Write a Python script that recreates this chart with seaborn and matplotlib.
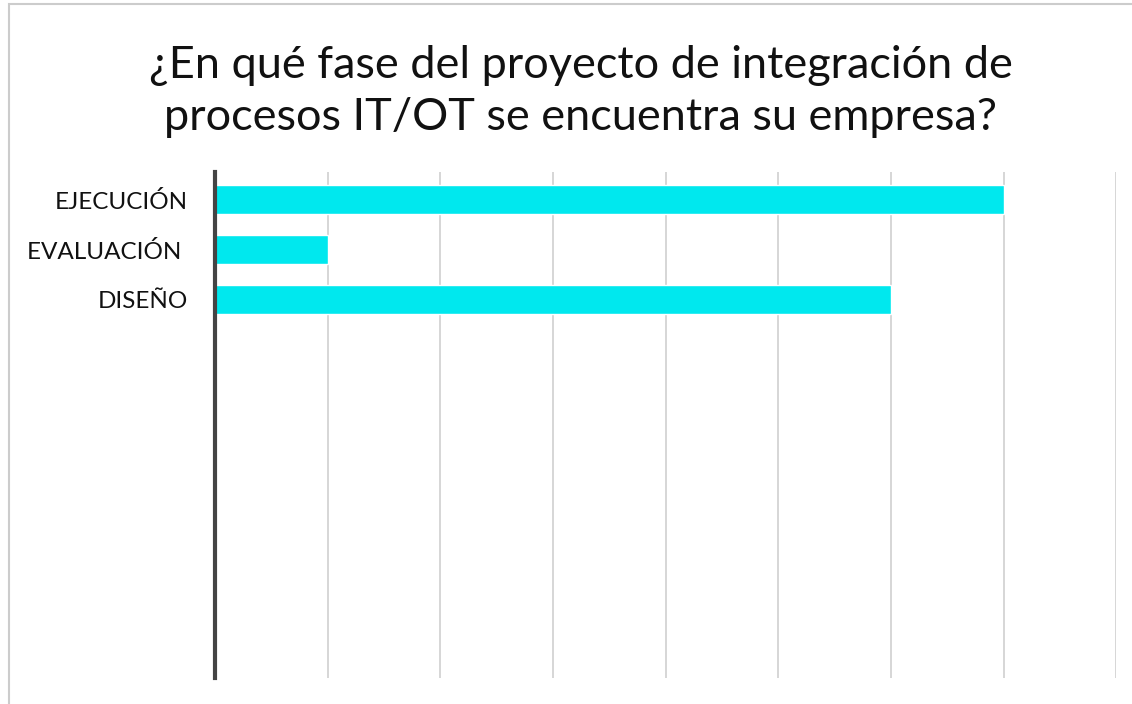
import matplotlib
matplotlib.use('Agg')
import matplotlib.pyplot as plt
import seaborn as sns
import pandas as pd
from matplotlib.patches import Rectangle

fases = ['EJECUCIÓN', 'EVALUACIÓN ', 'DISEÑO']
respuestas = [7, 1, 6]
titulo = '¿En qué fase del proyecto de integración de\nprocesos IT/OT se encuentra su empresa?'

sns.set_theme(style='white')
plt.rcParams['font.family'] = ['Lato', 'DejaVu Sans']

df = pd.DataFrame({'fase': fases, 'n': respuestas})

fig = plt.figure(figsize=(11.32, 7.04), dpi=100)
ax = fig.add_axes([0.19, 0.037, 0.796, 0.719])

sns.barplot(data=df, x='n', y='fase', color='#00E8EE', width=0.58,
            saturation=1, ax=ax, zorder=3)

ax.set_xlim(0, 8)
ax.set_ylim(9.56, -0.56)
ax.set_xticks(range(1, 9))
ax.set_xticklabels([])
ax.tick_params(axis='x', length=0)
ax.tick_params(axis='y', length=0, pad=19.5, labelsize=17.5, labelcolor='#111111')
ax.xaxis.grid(True, color='#cfcfcf', lw=1.2, zorder=0)
ax.set_xlabel('')
ax.set_ylabel('')
for s in ['top', 'right', 'bottom']:
    ax.spines[s].set_visible(False)
ax.spines['left'].set_color('#444444')
ax.spines['left'].set_linewidth(3)
ax.spines['left'].set_zorder(4)

fig.text(0.513, 0.87, titulo, ha='center', va='center', fontsize=32.5,
         color='#111111', linespacing=1.32)

fig.patches.append(Rectangle((0.008, -0.1), 1.1, 1.095, transform=fig.transFigure,
                             fill=False, ec='#cccccc', lw=1.5))

fig.savefig('out.png', dpi=100)
